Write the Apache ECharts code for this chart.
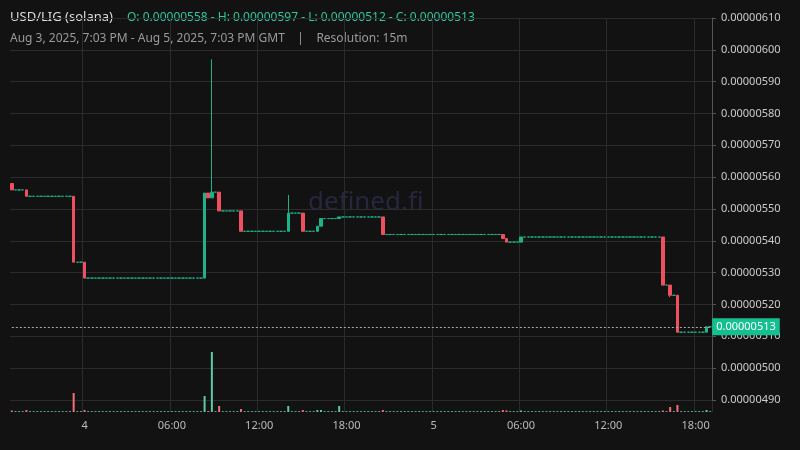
<!DOCTYPE html>
<html><head><meta charset="utf-8">
<script src="https://cdn.jsdelivr.net/npm/echarts@6/dist/echarts.min.js"></script>
<style>html,body{margin:0;padding:0;background:#121212;}#c{width:800px;height:450px;}</style>
</head><body><div id="c"></div>
<script>
// Prices in units of 1e-8 (0.00000558 -> 558)
const candleCount = 193;
const firstOpen = 558;
// Candles where trading happened (others are flat, no-trade candles at previous close)
const tradeIdx   = [0,   4,   17,   20,   53,  54,   55,   57,   63,  76,   80,  84,   85,  90,   102, 135,  136,  140,  179,  181,  183,  191];
const tradeClose = [556, 554, 533.3,528.3,555, 553.5,555.3,549.4,543, 548.7,543, 544.6,547, 547.5,542, 540.7,539.6,541.2,526.1,522.9,511.3,513];
const tradeHigh  = [558, 556, 554,  533.3,555, 555,  597,  555.3,549.4,554.4,548.7,544.6,547,547.5,547.5,542,540.7,541.2,541.2,526.1,522.9,513];
const tradeLow   = [556, 554, 533.3,528.3,528.3,553.5,553.5,549.4,543,543, 543, 543, 544.6,547, 542, 540.7,539.6,539.6,526.1,522.3,511.2,511.3];
const tradeVol   = [1.5, 2,   19,   2,    16,  1,    60,   6,    3,   6,    2,   2,    2,   6,   2,   2,    1.5,  1.5,  1.5,  5,    7,    2];
const idleVol = 0.8;
const tickIdx = [20, 44, 68, 92, 116, 140, 164, 188];
const tickLabels = ['4', '06:00', '12:00', '18:00', '5', '06:00', '12:00', '18:00'];
const lastPrice = 513;

const S = 1e8;
const cats = [], ohlc = [], vols = [];
let prev = firstOpen;
for (let i = 0; i < candleCount; i++) {
  cats.push(String(i));
  const k = tradeIdx.indexOf(i);
  if (k >= 0) {
    ohlc.push([prev / S, tradeClose[k] / S, tradeLow[k] / S, tradeHigh[k] / S]);
    const up = tradeClose[k] >= prev;
    vols.push({value: tradeVol[k], itemStyle: {color: up ? '#5cc9a7' : '#f0707a'}});
    prev = tradeClose[k];
  } else {
    ohlc.push([prev / S, prev / S, prev / S, prev / S]);
    vols.push({value: idleVol, itemStyle: {color: '#5cc9a7'}});
  }
}
const fmt = v => Number(v).toFixed(8);
const chart = echarts.init(document.getElementById('c'));
chart.setOption({
  backgroundColor: '#121212',
  animation: false,
  graphic: [
    {type: 'text', left: 10, top: 11, style: {text: 'USD/LIG (solana)', fill: '#dddddd', font: '13px "Noto Sans"'}},
    {type: 'text', left: 127, top: 12, style: {text: 'O: 0.00000558 - H: 0.00000597 - L: 0.00000512 - C: 0.00000513', fill: '#2fc79f', font: '12px "Noto Sans"'}},
    {type: 'text', left: 10, top: 33, style: {text: 'Aug 3, 2025, 7:03 PM - Aug 5, 2025, 7:03 PM GMT    |    Resolution: 15m', fill: '#9a9a9a', font: '12px "Noto Sans"'}},
    {type: 'text', left: 308, top: 190, z: 0, style: {text: 'defined.fi', fill: '#26263f', font: '26px "Noto Sans"'}}
  ],
  grid: [
    {left: 10, right: 88, top: 18, bottom: 50},
    {left: 10, right: 88, top: 340, bottom: 38}
  ],
  xAxis: [
    {type: 'category', data: cats, gridIndex: 0, boundaryGap: true,
     axisLine: {show: false}, axisTick: {show: false}, axisLabel: {show: false},
     splitLine: {show: true, interval: (i) => tickIdx.includes(i), lineStyle: {color: '#2c2c2c'}}},
    {type: 'category', data: cats, gridIndex: 1, boundaryGap: true,
     axisLine: {show: false}, axisTick: {show: false},
     axisLabel: {interval: (i) => tickIdx.includes(i), color: '#bbbbbb', fontSize: 11, fontFamily: 'Noto Sans', margin: 8,
       formatter: (v, i) => { const k = tickIdx.indexOf(i); return k >= 0 ? tickLabels[k] : ''; }},
     splitLine: {show: true, interval: (i) => tickIdx.includes(i), lineStyle: {color: '#2c2c2c'}}}
  ],
  yAxis: [
    {type: 'value', gridIndex: 0, position: 'right', min: 490 / S, max: 610 / S, interval: 10 / S,
     axisLine: {show: true, lineStyle: {color: '#555555'}}, axisTick: {show: true, length: 4, lineStyle: {color: '#555'}},
     axisLabel: {color: '#cccccc', fontSize: 11, fontFamily: 'Noto Sans', margin: 9, formatter: fmt},
     splitLine: {lineStyle: {color: '#2c2c2c'}}},
    {type: 'value', gridIndex: 1, min: 0, max: 72, show: false, splitLine: {show: false}}
  ],
  series: [
    {type: 'candlestick', xAxisIndex: 0, yAxisIndex: 0, data: ohlc, barWidth: 3,
     itemStyle: {color: '#1cb38a', color0: '#ef5060', borderColor: '#1cb38a', borderColor0: '#ef5060', borderWidth: 1},
     markLine: {symbol: ['none', 'none'], silent: true, precision: 10,
       lineStyle: {color: '#aaaaaa', type: [2, 2], width: 1},
       label: {show: true, position: 'end', formatter: fmt(lastPrice / S), backgroundColor: '#14c08f', color: '#ffffff',
         fontSize: 11, fontFamily: 'Noto Sans', padding: [3, 4], distance: 2},
       data: [[{coord: ['0', lastPrice / S]}, {coord: [String(candleCount - 1), lastPrice / S]}]]}},
    {type: 'bar', xAxisIndex: 1, yAxisIndex: 1, data: vols, barWidth: 2}
  ]
});
</script></body></html>
